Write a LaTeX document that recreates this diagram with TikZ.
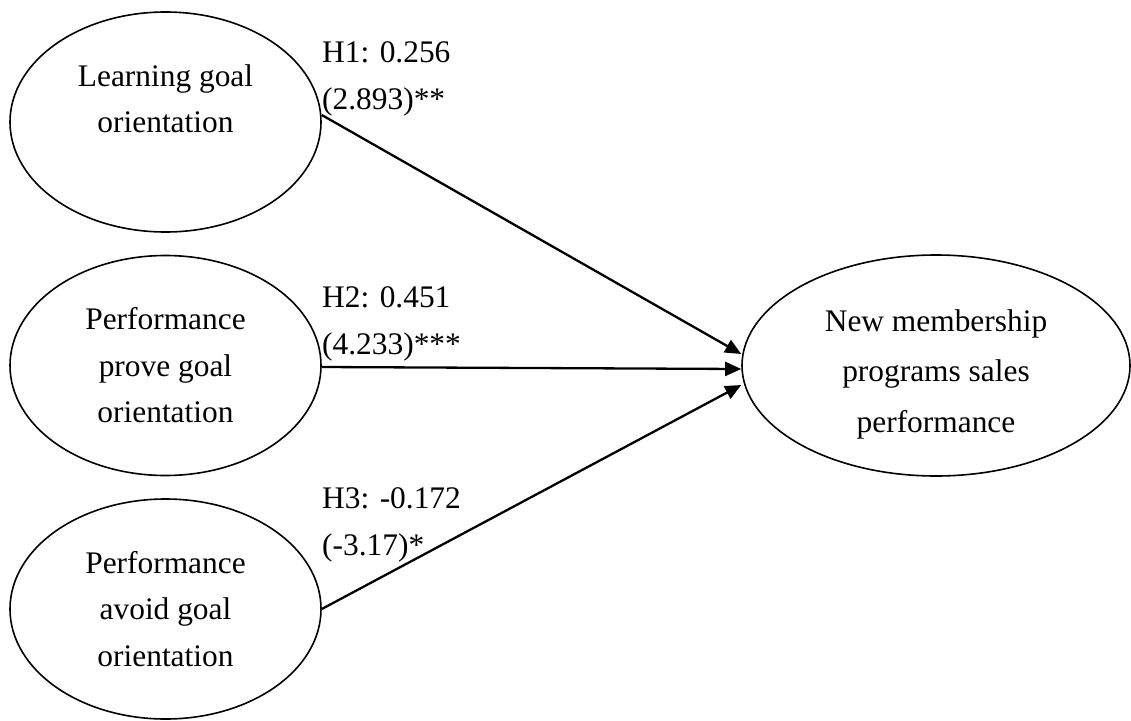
\documentclass[tikz,border=0pt]{standalone}
\usepackage{fontspec}
\setmainfont{Liberation Serif}
\usetikzlibrary{arrows.meta}
\usetikzlibrary{shapes.geometric}
\usetikzlibrary{positioning}

\begin{document}
\begin{tikzpicture}[x=1pt, y=-1pt,
  construct/.style={draw, ellipse, line width=1.6pt, inner sep=0pt, align=center,
    minimum width=311pt, minimum height=220pt,
    font=\fontsize{31.4}{46.5}\selectfont},
  coef/.style={anchor=north west, inner sep=0pt, align=left,
    font=\fontsize{31.4}{47}\selectfont},
  effect/.style={line width=2.3pt, -{Triangle[length=16pt, width=14pt]}}]
  \useasboundingbox (0,0) rectangle (1131,720);

  % constructs
  \node[construct] (LGO) at (165.5,122) {Learning goal\\orientation\\~};
  \node[construct] (PPGO) at (165.5,365.5) {Performance\\prove goal\\orientation};
  \node[construct] (PAGO) at (165.5,609) {Performance\\avoid goal\\orientation};
  \node[construct, minimum width=388pt, minimum height=221pt,
    font=\fontsize{31.4}{50.5}\selectfont] (NMP) at (936,365.5)
    {\rule{0pt}{39pt}New membership\\programs sales\\performance};

  % paths
  \draw[effect] ([yshift=7pt]LGO.east) -- ([yshift=11.5pt]NMP.west);
  \draw[effect] ([yshift=-1.5pt]PPGO.east) -- ([yshift=-3.5pt]NMP.west);
  \draw[effect] (PAGO.east) -- ([yshift=-19.5pt]NMP.west);

  % coefficients
  \node[coef] (H1) at (322,41) {H1: 0.256\\(2.893)**};
  \node[coef] (H2) at (322,286) {H2: 0.451\\(4.233)***};
  \node[coef] (H3) at (322,487) {H3: -0.172\\(-3.17)*};
\end{tikzpicture}
\end{document}
